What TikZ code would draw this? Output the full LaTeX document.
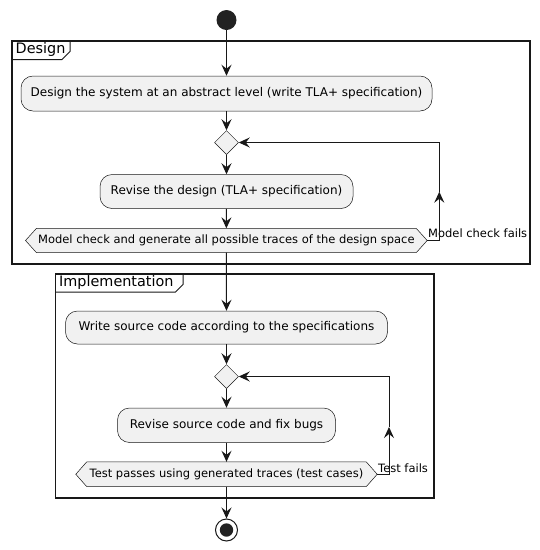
\documentclass[tikz,border=0pt]{standalone}
\usepackage{fontspec}
\setmainfont{DejaVu Sans}
\usetikzlibrary{shapes.geometric,arrows.meta,backgrounds}
\definecolor{boxfill}{HTML}{F1F1F1}
\definecolor{edge}{HTML}{181818}
\definecolor{dot}{HTML}{222222}
\tikzset{
  act/.style={draw=edge, line width=0.5pt, fill=boxfill, rounded corners=12pt, inner sep=0pt, font=\fontsize{12}{14}\selectfont},
  dia/.style={diamond, draw=edge, line width=0.5pt, fill=boxfill, minimum width=24pt, minimum height=24pt, inner sep=0pt},
  hexn/.style={inner sep=0pt, minimum height=24pt, font=\fontsize{11.5}{13}\selectfont},
  hexs/.style={draw=edge, line width=0.5pt, fill=boxfill},
  arr/.style={draw=edge, line width=1pt, -{Stealth[length=11pt,width=10pt,inset=4pt]}},
  lbl/.style={inner sep=0pt, font=\fontsize{11.5}{13}\selectfont},
  frm/.style={draw=edge, line width=1.5pt},
  tabs/.style={draw=edge, line width=1pt},
  ttl/.style={inner sep=0pt, anchor=west, font=\fontsize{14.4}{16}\selectfont},
  startc/.style={circle, fill=dot, minimum size=20pt, inner sep=0pt},
  endc/.style={circle, draw=edge, line width=1pt, minimum size=22pt, inner sep=0pt}
}
\begin{document}
\begin{tikzpicture}[x=1pt,y=-1pt]
\useasboundingbox (0,0) rectangle (540,550);
% frames
\draw[frm] (12,41) rectangle (530,264);
\draw[tabs] (12,59.5) -- (62,59.5) -- (70,51.5) -- (70,41);
\node[ttl] (tD) at (15.5,50) {Design};
\draw[frm] (55.5,274) rectangle (434,498);
\draw[tabs] (55.5,292) -- (175.5,292) -- (183,284.5) -- (183,274);
\node[ttl] (tI) at (59,283) {Implementation};
% nodes
\node[startc] (s) at (226.5,20) {};
\node[act, minimum width=411pt, minimum height=35pt] (b1) at (226.5,93.5) {Design the system at an abstract level (write TLA+ specification)};
\node[dia] (d1) at (226.5,142.5) {};
\node[act, minimum width=253pt, minimum height=34pt] (r1) at (226.5,191.5) {Revise the design (TLA+ specification)};
\node[hexn, minimum width=401.3pt] (h1) at (226.35,240.5) {Model check and generate all possible traces of the design space};
\node[act, minimum width=322pt, minimum height=33pt] (b2) at (226.5,327.5) {Write source code according to the specifications};
\node[dia] (d2) at (226.5,376.5) {};
\node[act, minimum width=218pt, minimum height=34.5pt] (r2) at (226.5,425.25) {Revise source code and fix bugs};
\node[hexn, minimum width=301pt, minimum height=24.5pt] (h2) at (226.5,474.25) {Test passes using generated traces (test cases)};
\node[endc] (e) at (226.5,530) {};
\fill[dot] (e.center) circle (6.7pt);
\begin{scope}[on background layer]
\fill[white] (0,0) rectangle (540,550);
\draw[hexs] (h1.west) -- ([xshift=11pt]h1.north west) -- ([xshift=-11pt]h1.north east) -- (h1.east) -- ([xshift=-11pt]h1.south east) -- ([xshift=11pt]h1.south west) -- cycle;
\draw[hexs] (h2.west) -- ([xshift=11pt]h2.north west) -- ([xshift=-11pt]h2.north east) -- (h2.east) -- ([xshift=-11pt]h2.south east) -- ([xshift=11pt]h2.south west) -- cycle;
\end{scope}
% labels
\node[lbl, anchor=base west] (lm) at (428,237.5) {Model check fails};
\node[lbl, anchor=base west] (lt) at (378,472) {Test fails};
% connectors
\draw[arr] (s.south) -- (b1.north);
\draw[arr] (b1.south) -- (d1.north);
\draw[arr] (d1.south) -- (r1.north);
\draw[arr] (r1.south) -- (h1.north);
\coordinate (m1) at (439.3,191.7);
\draw[arr] (h1.east) -| (m1);
\draw[arr] (m1) |- (d1.east);
\draw[arr] (h1.south) -- (b2.north);
\draw[arr] (b2.south) -- (d2.north);
\draw[arr] (d2.south) -- (r2.north);
\draw[arr] (r2.south) -- (h2.north);
\coordinate (m2) at (389,427);
\draw[arr] (h2.east) -| (m2);
\draw[arr] (m2) |- (d2.east);
\draw[arr] (h2.south) -- (e.north);
\end{tikzpicture}
\end{document}
